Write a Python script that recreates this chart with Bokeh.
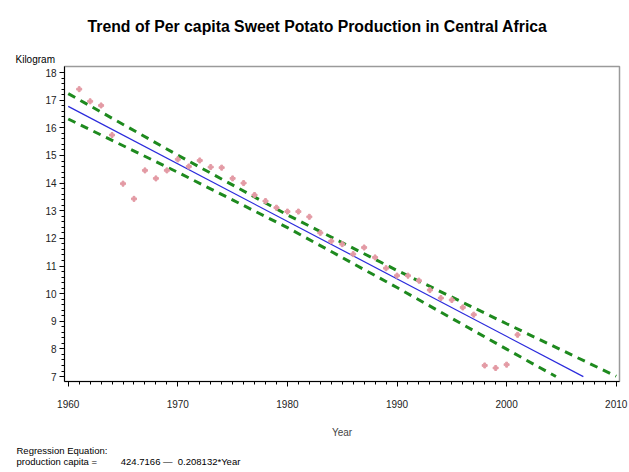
from bokeh.plotting import figure
from bokeh.models import Range1d, Title, FixedTicker
from bokeh.embed import file_html
from bokeh.resources import INLINE

years = list(range(1961, 2002))
kilogram = [17.40, 16.96, 16.81, 15.74, 13.98, 13.43, 14.46, 14.17, 14.46, 14.86,
            14.60, 14.82, 14.58, 14.56, 14.17, 14.00, 13.57, 13.35, 13.11, 12.97,
            12.97, 12.78, 12.20, 11.90, 11.79, 11.43, 11.67, 11.31, 10.92, 10.65,
            10.65, 10.47, 10.13, 9.84, 9.77, 9.50, 9.24, 7.40, 7.31, 7.43,
            8.51]

intercept = 424.7166
slope = -0.208132
fit_years = [1960, 2007]
fit_values = [intercept + slope * y for y in fit_years]

upper_years = [1960, 1970, 1980, 1990, 2000, 2010]
upper_values = [17.24, 15.01, 12.85, 10.84, 8.91, 7.01]
lower_years = [1960, 1970, 1980, 1990, 2000, 2004.5]
lower_values = [16.32, 14.39, 12.39, 10.22, 7.99, 7.00]

x_ticks = [1960, 1970, 1980, 1990, 2000, 2010]
y_ticks = list(range(7, 19))

FONT = "Liberation Sans"
FRAME_LEFT = 64
FRAME_BOTTOM = 381

p = figure(width=629, height=472, output_backend="svg", toolbar_location=None,
           x_range=Range1d(1959.66, 2010.3), y_range=Range1d(6.82, 18.22),
           min_border_left=FRAME_LEFT, min_border_right=10, min_border_top=65,
           min_border_bottom=472 - FRAME_BOTTOM)
p.title = None
p.grid.visible = False
p.outline_line_color = "#9a9a9a"
p.outline_line_width = 1.5

for ax in (p.xaxis[0], p.yaxis[0]):
    ax.axis_line_color = "black"
    ax.axis_line_width = 1
    ax.major_tick_out = 5
    ax.major_tick_in = 0
    ax.minor_tick_out = 3
    ax.minor_tick_in = 0
    ax.major_label_text_font = FONT
    ax.major_label_text_font_size = "10px"
    ax.major_label_text_color = "#222222"
    ax.axis_label_text_font = FONT
    ax.axis_label_text_font_style = "normal"
    ax.axis_label_text_font_size = "10px"

p.xaxis.ticker = FixedTicker(ticks=x_ticks, minor_ticks=list(range(1960, 2011)))
p.yaxis.ticker = FixedTicker(ticks=y_ticks, minor_ticks=[7 + 0.2 * i for i in range(56)])
p.xaxis.major_label_standoff = 13
p.xaxis.axis_label = "Year"
p.xaxis.axis_label_standoff = 16
p.yaxis.major_label_standoff = 3

p.line(upper_years, upper_values, line_color="#1e8a1e", line_width=3, line_dash="8 6")
p.line(lower_years, lower_values, line_color="#1e8a1e", line_width=3, line_dash="8 6")
p.line(fit_years, fit_values, line_color="#2b2bdc", line_width=1.2)
p.scatter(years, kilogram, marker="plus", size=5, color="#e39aa4")

def title(txt, side, left_px, size, bold=False, standoff=0):
    p.add_layout(Title(text=txt, align="left", offset=left_px - FRAME_LEFT,
                       text_font=FONT, text_font_size=size,
                       text_font_style="bold" if bold else "normal",
                       text_color="black", standoff=standoff), side)

NB = "\u00a0"
# above: first added is closest to the frame
title("Kilogram", "above", 15, "10px", standoff=4)
title("Trend of Per capita Sweet Potato Production in Central Africa", "above", 87, "15.8px", True, standoff=30)
# below: after the x axis
title("Regression Equation:", "below", 16, "9.5px", standoff=5)
title("production capita =" + NB * 9 + "424.7166" + NB + "\u2014" + NB * 2 + "0.208132*Year",
      "below", 16, "9.5px", standoff=-10)

open("out.html", "w").write(file_html(p, INLINE))
